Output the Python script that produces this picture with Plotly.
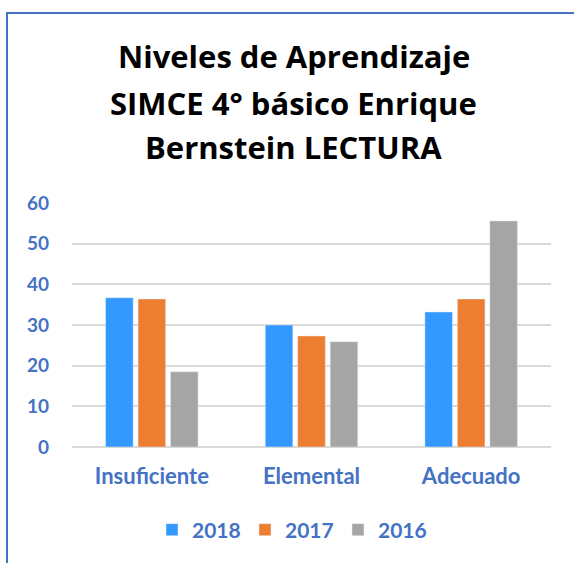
import plotly.graph_objects as go

categories = ["Insuficiente", "Elemental", "Adecuado"]
series_names = ["2018", "2017", "2016"]
values_2018 = [36.7, 30.0, 33.2]
values_2017 = [36.4, 27.3, 36.4]
values_2016 = [18.5, 25.9, 55.6]
colors = ["#3399FF", "#ED7D31", "#A5A5A5"]
title_lines = ["Niveles de Aprendizaje", "SIMCE 4° básico Enrique", "Bernstein LECTURA"]
y_ticks = [0, 10, 20, 30, 40, 50, 60]

W, H = 574, 563
L, R, T, B = 72, 23, 203, 116
pw, ph = W - L - R, H - T - B

def px_x(x):
    return (x - L) / pw

def px_y(y):
    return (H - B - y) / ph

TXT = "#4472C4"
FONT = "Lato"
TFONT = "Open Sans"

fig = go.Figure()
for name, vals, col in zip(series_names, [values_2018, values_2017, values_2016], colors):
    fig.add_trace(go.Bar(x=categories, y=vals, name=name, marker_color=col))

annotations = []
for line, yc in zip(title_lines, [56.5, 102.5, 146.5]):
    annotations.append(dict(text=line, x=px_x(293.5), y=px_y(yc), xref="paper", yref="paper",
                            xanchor="center", yanchor="middle", showarrow=False,
                            font=dict(family=TFONT, size=31, color="#000000", weight="bold")))

shapes = [
    dict(type="line", xref="paper", yref="paper", x0=px_x(7), x1=px_x(7), y0=px_y(13), y1=px_y(580),
         line=dict(color="#4472C4", width=2)),
    dict(type="line", xref="paper", yref="paper", x0=px_x(6), x1=px_x(590), y0=px_y(13), y1=px_y(13),
         line=dict(color="#4472C4", width=2)),
]

fig.update_layout(
    width=W, height=H,
    margin=dict(l=L, r=R, t=T, b=B),
    paper_bgcolor="white", plot_bgcolor="white",
    barmode="group", bargap=0.39, bargroupgap=0.15,
    annotations=annotations, shapes=shapes,
    showlegend=True,
    legend=dict(orientation="h", x=px_x(291.5), xanchor="center", y=px_y(530), yanchor="middle",
                font=dict(family=FONT, size=21, color=TXT, weight="bold"), itemwidth=30,
                entrywidth=48, traceorder="normal"),
    font=dict(family=FONT),
)
fig.update_xaxes(showgrid=False, showline=False, zeroline=False, ticks="",
                 tickfont=dict(family=FONT, size=22, color=TXT, weight="bold"), ticklabelstandoff=14)
fig.update_yaxes(range=[0, 60], tickvals=y_ticks, showgrid=True, gridcolor="#D9D9D9", gridwidth=1.5,
                 zeroline=True, zerolinecolor="#D9D9D9", zerolinewidth=1.5, showline=False, ticks="",
                 tickfont=dict(family=FONT, size=19, color=TXT, weight="bold"), ticklabelstandoff=22)

fig.write_html("out.html", config={"displayModeBar": False},
               post_script="document.body.style.margin='0px';")
